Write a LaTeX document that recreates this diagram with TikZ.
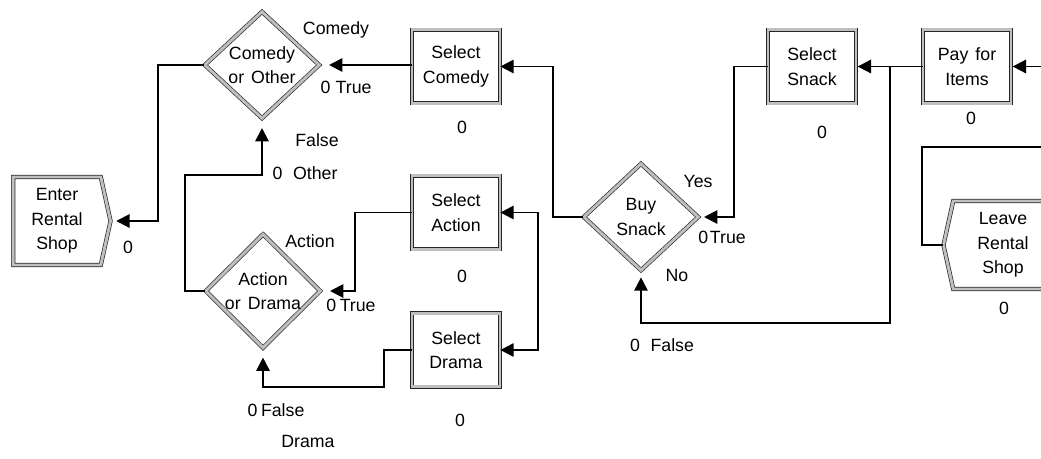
\documentclass[tikz,border=0pt]{standalone}
\usepackage{fontspec}
\setmainfont{Liberation Sans}
\usetikzlibrary{shapes.geometric,shapes.symbols,arrows.meta}
\begin{document}
\begin{tikzpicture}[x=0.75pt,y=-0.75pt,
  every node/.style={font=\fontsize{13.3}{18.5}\selectfont},
  border/.style={draw=black!85, line width=0.5pt, double=gray!50, double distance=2.2pt},
  box/.style={rectangle, border, minimum width=66pt, minimum height=55pt, align=center, inner sep=1pt},
  dia/.style={diamond, border, minimum width=86pt, minimum height=80pt, align=center, inner sep=0pt},
  term/.style={signal, border, signal pointer angle=155, minimum height=66pt, align=center, inner sep=1pt},
  ln/.style={line width=1.45pt},
  conn/.style={ln, -{Triangle[length=10pt,width=10pt]}},
  lbl/.style={inner sep=0pt}
]
\useasboundingbox (0,0) rectangle (1041,458);
\clip (0,0) rectangle (1041,458);

% nodes
\node[term, signal to=east, minimum width=73pt] (EN) at (57,221) {Enter\\Rental\\Shop};
\node[term, signal to=west, minimum width=82pt] (LV) at (1003,245) {Leave\\Rental\\Shop};
\node[dia] (CO) at (262,65) {Comedy\\or\hspace{0.4em}Other};
\node[dia] (AD) at (263,291) {Action\\or\hspace{0.4em}Drama};
\node[dia] (BS) at (641,217) {Buy\\Snack};
\node[box] (SC) at (456,66.5) {Select\\Comedy};
\node[box] (SA) at (456,212.5) {Select\\Action};
\node[box] (SD) at (456,350) {Select\\Drama};
\node[box] (SS) at (812,66.5) {Select\\Snack};
\node[box] (PF) at (967,66.5) {Pay\hspace{0.4em}for\\Items};

% labels
\node[lbl] (l1) at (336,30) {Comedy};
\node[lbl] (l2) at (346,87) {0\hspace{0.3em}True};
\node[lbl] (l3) at (317,140) {False};
\node[lbl] (l4) at (305,173) {0\hspace{0.6em}Other};
\node[lbl] (l5) at (310,241) {Action};
\node[lbl] (l6) at (351,305) {0\hspace{0.2em}True};
\node[lbl] (l7) at (276,410) {0\hspace{0.2em}False};
\node[lbl] (l8) at (308,441) {Drama};
\node[lbl] (l9) at (462,127) {0};
\node[lbl] (l10) at (462,276) {0};
\node[lbl] (l11) at (460,420) {0};
\node[lbl] (l12) at (698,181) {Yes};
\node[lbl] (l13) at (722,237) {0\hspace{0.1em}True};
\node[lbl] (l14) at (677,275) {No};
\node[lbl] (l15) at (662,345) {0\hspace{0.6em}False};
\node[lbl] (l16) at (822,132) {0};
\node[lbl] (l17) at (971,118) {0};
\node[lbl] (l18) at (128,247) {0};
\node[lbl] (l19) at (1004,308) {0};

% free ends at the right edge
\coordinate (rin) at (1045,66.5);
\coordinate (rout) at (1045,147);

% connectors
\draw[conn, shorten >=4pt] (CO.west) -- ++(-46,0) |- (EN.east);
\draw[conn, shorten >=7pt] (CO.east -| SC.west) -- (CO.east);
\draw[conn] (BS.west) -- ++(-30,0) |- (SC.east);
\draw[ln, {Triangle[length=10pt,width=10pt]}-{Triangle[length=10pt,width=10pt]}] (SA.east) -- ++(38,0) |- (SD.east);
\draw[conn, shorten >=7pt] (SA.west) -- ++(-57,0) |- (AD.east);
\draw[conn, shorten >=7pt] (SD.west) -- ++(-28,0) -- ++(0,37) -| (AD.south);
\draw[conn, shorten >=7pt] (AD.west) -- ++(-20,0) |- (CO.south |- 0,175) -- (CO.south);
\draw[conn, shorten >=1pt] (PF.west) -- (SS.east);
\draw[conn, shorten >=5pt] (PF.west -| 890,0) -- (890,323) -| (BS.south);
\draw[conn, shorten >=4pt] (SS.west) -- ++(-34,0) |- (BS.east);
\draw[conn, shorten >=1pt] (rin) -- (PF.east);
\draw[ln] (rout) -- (922,147) |- (LV.west);
\end{tikzpicture}
\end{document}
